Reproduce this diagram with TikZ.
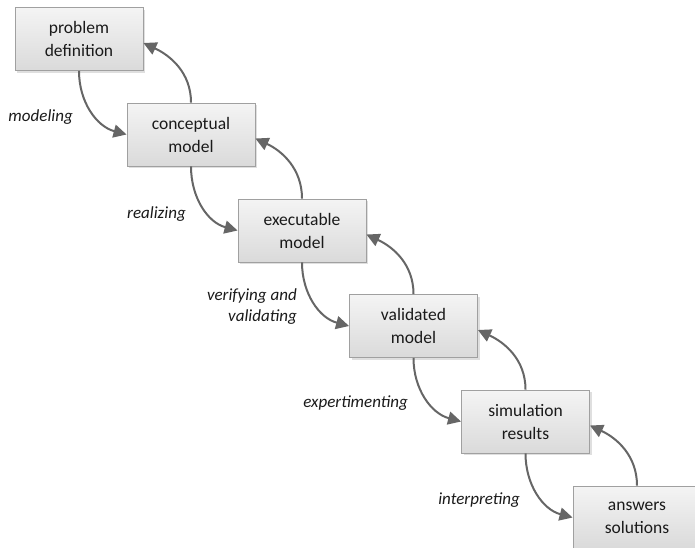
\documentclass[tikz,border=0pt]{standalone}
\usepackage{fontspec}
\setmainfont{Carlito}
\usetikzlibrary{arrows.meta,shadows}
\definecolor{boxtop}{HTML}{F4F4F4}
\definecolor{boxbot}{HTML}{DADADA}
\definecolor{boxline}{HTML}{A0A0A0}
\definecolor{flow}{HTML}{666666}
\definecolor{ink}{HTML}{1A1A1A}
\tikzset{
  stage/.style={draw=boxline, line width=0.9pt, top color=boxtop, bottom color=boxbot,
    minimum width=128pt, minimum height=63pt, align=center, text=ink,
    font=\fontsize{17.5}{23}\selectfont,
    drop shadow={shadow xshift=2pt, shadow yshift=-2pt, opacity=0.25, fill=gray}},
  flowline/.style={draw=flow, line width=2pt, -{Triangle[length=13pt,width=13pt]}},
  tag/.style={font=\fontsize{17}{21}\selectfont\itshape, text=ink, inner sep=0pt}
}
\begin{document}
\begin{tikzpicture}[x=1pt,y=-1pt]
\useasboundingbox (0,0) rectangle (695,547);
\clip (0,0) rectangle (695,547);
% process stages
\node[stage] (pd) at (79,39)    {problem\\definition};
\node[stage] (cm) at (191,134.5) {conceptual\\model};
\node[stage] (em) at (302,230.5) {executable\\model};
\node[stage] (vm) at (413.5,326) {validated\\model};
\node[stage] (sr) at (525.5,421.5) {simulation\\results};
\node[stage] (as) at (637,517.5) {answers\\solutions};
% forward steps
\draw[flowline] (pd.south) to[out=-90,in=165] (cm.west);
\draw[flowline] (cm.south) to[out=-90,in=165] (em.west);
\draw[flowline] (em.south) to[out=-90,in=165] (vm.west);
\draw[flowline] (vm.south) to[out=-90,in=165] (sr.west);
\draw[flowline] (sr.south) to[out=-90,in=165] (as.west);
% feedback steps
\draw[flowline] (cm.north) to[out=90,in=-25] ([yshift=-4pt]pd.east);
\draw[flowline] (em.north) to[out=90,in=-25] ([yshift=-4pt]cm.east);
\draw[flowline] (vm.north) to[out=90,in=-25] ([yshift=-4pt]em.east);
\draw[flowline] (sr.north) to[out=90,in=-25] ([yshift=-4pt]vm.east);
\draw[flowline] (as.north) to[out=90,in=-25] ([yshift=-4pt]sr.east);
% step labels
\node[tag, anchor=east] (l1) at (73,117) {modeling};
\node[tag, anchor=east] (l2) at (186,214) {realizing};
\node[tag, anchor=east, align=right] (l3) at (297,307) {verifying and\\validating};
\node[tag, anchor=east] (l4) at (408,403) {expertimenting};
\node[tag, anchor=east] (l5) at (520,500) {interpreting};
\end{tikzpicture}
\end{document}
